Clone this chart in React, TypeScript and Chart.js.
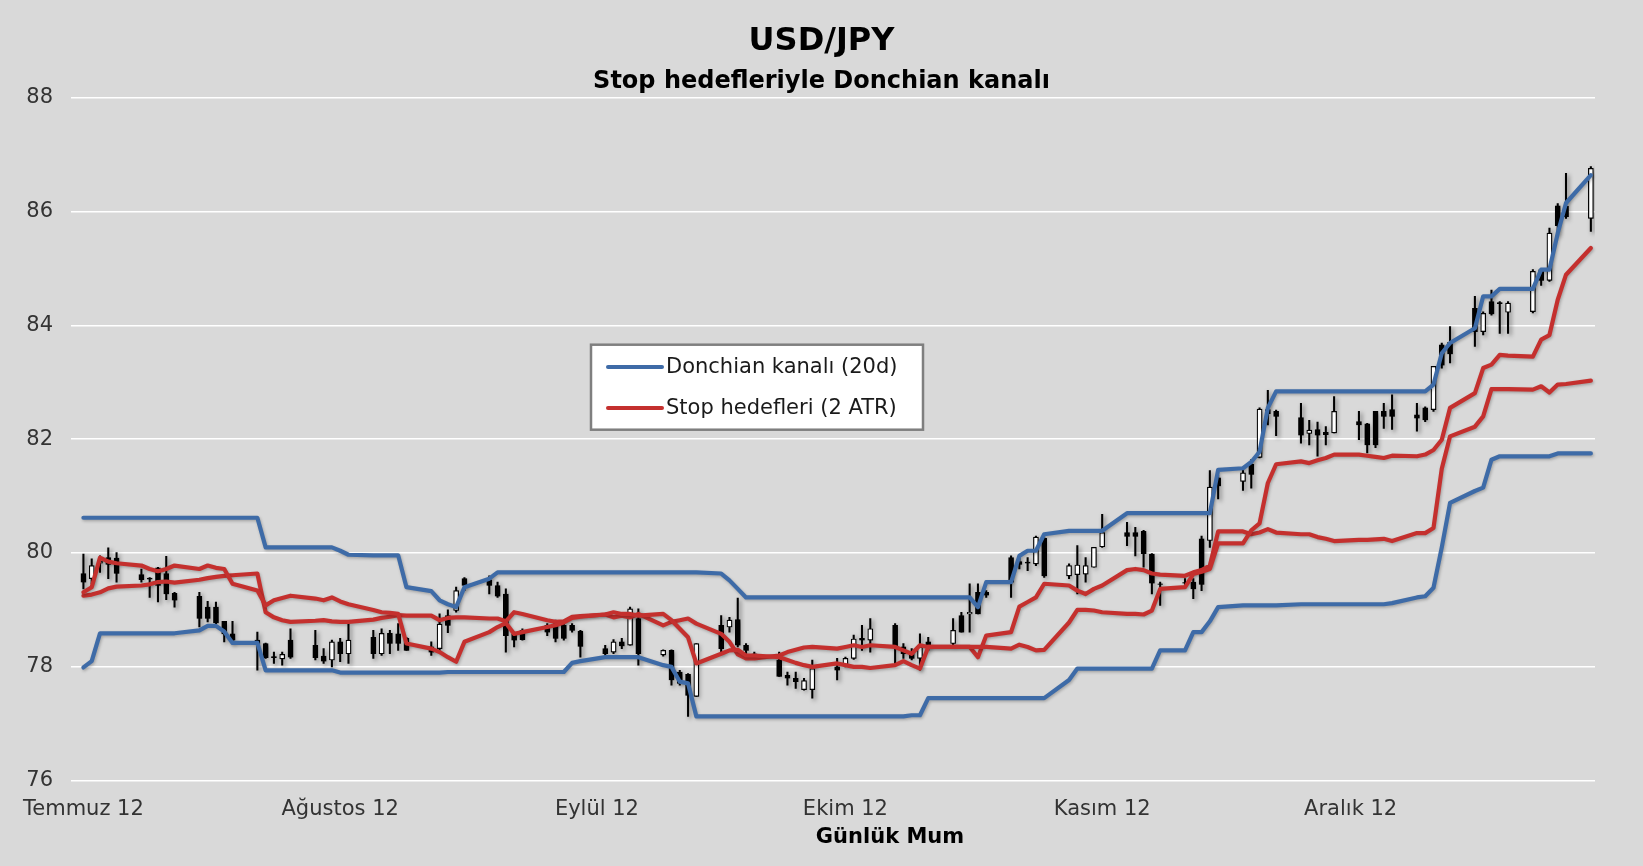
import React, { useEffect, useRef } from 'react';
import { Chart, registerables } from 'chart.js';

Chart.register(...registerables);

const FONT = '"DejaVu Sans", Verdana, sans-serif';

// Trading days (MM-DD, 2012)
const tradingDates = [
  '07-02','07-03','07-04','07-05','07-06',
  '07-09','07-10','07-11','07-12','07-13',
  '07-16','07-17','07-18','07-19','07-20',
  '07-23','07-24','07-25','07-26','07-27',
  '07-30','07-31','08-01','08-02','08-03',
  '08-06','08-07','08-08','08-09','08-10',
  '08-13','08-14','08-15','08-16','08-17',
  '08-20','08-21','08-22','08-23','08-24',
  '08-27','08-28','08-29','08-30','08-31',
  '09-03','09-04','09-05','09-06','09-07',
  '09-10','09-11','09-12','09-13','09-14',
  '09-17','09-18','09-19','09-20','09-21',
  '09-24','09-25','09-26','09-27','09-28',
  '10-01','10-02','10-03','10-04','10-05',
  '10-08','10-09','10-10','10-11','10-12',
  '10-15','10-16','10-17','10-18','10-19',
  '10-22','10-23','10-24','10-25','10-26',
  '10-29','10-30','10-31','11-01','11-02',
  '11-05','11-06','11-07','11-08','11-09',
  '11-12','11-13','11-14','11-15','11-16',
  '11-19','11-20','11-21','11-22','11-23',
  '11-26','11-27','11-28','11-29','11-30',
  '12-03','12-04','12-05','12-06','12-07',
  '12-10','12-11','12-12','12-13','12-14',
  '12-17','12-18','12-19','12-20','12-21',
  '12-24','12-25','12-26','12-27','12-28',
  '12-31',
];

const opens = [
  79.64, 79.55, 79.82, 79.92, 79.91,
  79.62, 79.56, 79.74, 79.64, 79.29,
  79.24, 79.05, 79.05, 78.80, 78.58,
  78.47, 78.41, 78.18, 78.14, 78.47,
  78.38, 78.19, 78.12, 78.44, 78.23,
  78.52, 78.23, 78.59, 78.58, 78.50,
  78.35, 78.32, 78.90, 78.99, 79.55,
  79.53, 79.43, 79.28, 78.58, 78.64,
  78.73, 78.76, 78.73, 78.73, 78.63,
  78.32, 78.26, 78.44, 78.38, 78.85,
  78.21, 78.29, 77.91, 77.87, 77.48,
  78.73, 78.70, 78.83, 78.38, 78.23,
  78.12, 77.85, 77.80, 77.60, 77.60,
  78.00, 78.03, 78.15, 78.50, 78.47,
  78.73, 78.35, 78.26, 78.15, 78.44,
  78.41, 78.90, 78.93, 79.31, 79.31,
  79.92, 79.85, 79.84, 79.81, 80.26,
  79.60, 79.62, 79.63, 79.75, 80.11,
  80.36, 80.36, 80.38, 79.98, 79.46,
  79.48, 79.49, 80.25, 80.22, 81.32,
  81.26, 81.56, 81.68, 82.52, 82.49,
  82.38, 82.10, 82.17, 82.12, 82.11,
  82.31, 82.27, 82.49, 82.49, 82.52,
  82.43, 82.55, 82.52, 83.66, 83.70,
  84.30, 83.89, 84.42, 84.40, 84.23,
  84.24, 84.98, 84.79, 86.10, 86.09,
  85.88,
];

const highs = [
  79.98, 79.90, 79.95, 80.09, 80.01,
  79.72, 79.57, 79.75, 79.94, 79.31,
  79.31, 79.15, 79.14, 78.80, 78.80,
  78.61, 78.42, 78.26, 78.26, 78.67,
  78.64, 78.32, 78.47, 78.50, 78.76,
  78.64, 78.67, 78.64, 78.76, 78.52,
  78.44, 78.93, 79.00, 79.40, 79.57,
  79.60, 79.49, 79.37, 78.61, 78.67,
  78.76, 78.82, 78.76, 78.76, 78.64,
  78.38, 78.48, 78.50, 79.05, 79.02,
  78.30, 78.30, 77.94, 77.88, 78.41,
  78.90, 78.87, 79.21, 78.41, 78.26,
  78.26, 77.91, 77.91, 77.80, 78.12,
  78.15, 78.17, 78.56, 78.73, 78.85,
  78.76, 78.41, 78.32, 78.58, 78.52,
  78.85, 78.96, 79.46, 79.46, 79.34,
  79.95, 79.92, 79.92, 80.30, 80.27,
  79.81, 80.13, 79.92, 80.10, 80.68,
  80.54, 80.45, 80.40, 79.99, 79.49,
  79.55, 79.55, 80.30, 81.45, 81.36,
  81.47, 81.64, 82.55, 82.86, 82.51,
  82.63, 82.33, 82.30, 82.22, 82.75,
  82.49, 82.28, 82.49, 82.63, 82.78,
  82.63, 82.57, 83.28, 83.69, 83.98,
  84.51, 84.24, 84.62, 84.42, 84.42,
  84.98, 84.98, 85.71, 86.14, 86.67,
  86.79,
];

const lows = [
  79.37, 79.46, 79.66, 79.55, 79.49,
  79.49, 79.22, 79.14, 79.18, 79.05,
  78.70, 78.79, 78.76, 78.44, 78.41,
  77.94, 78.15, 78.06, 78.03, 78.15,
  78.12, 78.06, 78.00, 78.09, 78.06,
  78.15, 78.20, 78.23, 78.29, 78.29,
  78.20, 78.29, 78.60, 78.96, 79.34,
  79.28, 79.22, 78.26, 78.35, 78.47,
  78.55, 78.44, 78.47, 78.61, 78.17,
  78.20, 78.23, 78.32, 78.38, 78.03,
  78.19, 77.68, 77.68, 77.13, 77.48,
  78.23, 78.61, 78.35, 78.17, 78.15,
  77.83, 77.68, 77.62, 77.59, 77.45,
  77.77, 78.00, 78.13, 78.29, 78.26,
  78.06, 78.15, 78.12, 77.94, 78.29,
  78.38, 78.61, 78.61, 78.93, 79.22,
  79.22, 79.72, 79.69, 79.78, 79.57,
  79.55, 79.28, 79.49, 79.75, 80.10,
  80.13, 79.95, 79.75, 79.28, 79.08,
  79.44, 79.20, 79.34, 80.10, 80.95,
  81.10, 81.14, 81.67, 82.25, 82.06,
  81.93, 81.90, 81.70, 81.90, 82.11,
  81.99, 81.76, 81.85, 82.19, 82.17,
  82.14, 82.31, 82.49, 83.25, 83.34,
  83.63, 83.83, 84.18, 83.86, 83.86,
  84.22, 84.70, 84.77, 85.59, 85.88,
  85.65,
];

const closes = [
  79.49, 79.78, 79.86, 79.80, 79.64,
  79.53, 79.54, 79.43, 79.28, 79.17,
  78.85, 78.85, 78.77, 78.58, 78.47,
  78.41, 78.16, 78.16, 78.22, 78.17,
  78.16, 78.10, 78.44, 78.23, 78.47,
  78.23, 78.59, 78.41, 78.41, 78.29,
  78.26, 78.75, 78.73, 79.34, 79.43,
  79.43, 79.24, 78.55, 78.47, 78.48,
  78.61, 78.50, 78.50, 78.64, 78.36,
  78.23, 78.44, 78.37, 79.02, 78.23,
  78.29, 77.77, 77.71, 77.50, 78.41,
  78.32, 78.82, 78.38, 78.29, 78.16,
  77.83, 77.80, 77.74, 77.76, 77.97,
  77.94, 78.15, 78.49, 78.47, 78.67,
  78.35, 78.23, 78.15, 78.35, 78.35,
  78.64, 78.61, 78.96, 78.93, 79.26,
  79.49, 79.80, 79.82, 80.28, 79.60,
  79.78, 79.79, 79.78, 80.10, 80.36,
  80.29, 80.29, 79.99, 79.47, 79.45,
  79.47, 79.37, 79.45, 81.16, 81.18,
  81.41, 81.38, 82.53, 82.45, 82.40,
  82.07, 82.16, 82.07, 82.08, 82.49,
  82.25, 81.90, 81.90, 82.40, 82.40,
  82.37, 82.34, 83.28, 83.30, 83.50,
  83.89, 84.21, 84.20, 84.38, 84.39,
  84.95, 84.79, 85.62, 85.75, 85.91,
  86.76,
];

const donchianUpper = [
  80.62, 80.62, 80.62, 80.62, 80.62,
  80.62, 80.62, 80.62, 80.62, 80.62,
  80.62, 80.62, 80.62, 80.62, 80.62,
  80.62, 80.10, 80.10, 80.10, 80.10,
  80.10, 80.10, 80.10, 80.04, 79.97,
  79.96, 79.96, 79.96, 79.96, 79.40,
  79.33, 79.17, 79.10, 79.05, 79.40,
  79.55, 79.66, 79.66, 79.66, 79.66,
  79.66, 79.66, 79.66, 79.66, 79.66,
  79.66, 79.66, 79.66, 79.66, 79.66,
  79.66, 79.66, 79.66, 79.66, 79.66,
  79.64, 79.52, 79.37, 79.22, 79.22,
  79.22, 79.22, 79.22, 79.22, 79.22,
  79.22, 79.22, 79.22, 79.22, 79.22,
  79.22, 79.22, 79.22, 79.22, 79.22,
  79.22, 79.22, 79.22, 79.05, 79.49,
  79.49, 79.95, 80.04, 80.04, 80.33,
  80.39, 80.39, 80.39, 80.39, 80.39,
  80.70, 80.70, 80.70, 80.70, 80.70,
  80.70, 80.70, 80.70, 80.70, 81.46,
  81.49, 81.60, 81.78, 82.55, 82.84,
  82.84, 82.84, 82.84, 82.84, 82.84,
  82.84, 82.84, 82.84, 82.84, 82.84,
  82.84, 82.84, 82.96, 83.51, 83.69,
  83.95, 84.51, 84.51, 84.64, 84.64,
  84.64, 84.98, 84.98, 85.62, 86.15,
  86.64,
];

const donchianLower = [
  77.99, 78.10, 78.59, 78.59, 78.59,
  78.59, 78.59, 78.59, 78.59, 78.59,
  78.64, 78.72, 78.72, 78.62, 78.42,
  78.42, 77.94, 77.94, 77.94, 77.94,
  77.94, 77.94, 77.94, 77.90, 77.90,
  77.90, 77.90, 77.90, 77.90, 77.90,
  77.90, 77.90, 77.91, 77.91, 77.91,
  77.91, 77.91, 77.91, 77.91, 77.91,
  77.91, 77.91, 77.91, 78.07, 78.10,
  78.17, 78.17, 78.17, 78.17, 78.17,
  78.03, 78.00, 77.74, 77.71, 77.13,
  77.13, 77.13, 77.13, 77.13, 77.13,
  77.13, 77.13, 77.13, 77.13, 77.13,
  77.13, 77.13, 77.13, 77.13, 77.13,
  77.13, 77.13, 77.15, 77.15, 77.45,
  77.45, 77.45, 77.45, 77.45, 77.45,
  77.45, 77.45, 77.45, 77.45, 77.45,
  77.77, 77.97, 77.97, 77.97, 77.97,
  77.97, 77.97, 77.97, 77.97, 78.29,
  78.29, 78.61, 78.61, 78.80, 79.05,
  79.08, 79.08, 79.08, 79.08, 79.08,
  79.10, 79.10, 79.10, 79.10, 79.10,
  79.10, 79.10, 79.10, 79.10, 79.12,
  79.22, 79.24, 79.39, 80.10, 80.88,
  81.09, 81.15, 81.64, 81.70, 81.70,
  81.70, 81.70, 81.70, 81.75, 81.75,
  81.75,
];

const stopLine1 = [
  79.31, 79.40, 79.92, 79.85, 79.82,
  79.78, 79.72, 79.68, 79.72, 79.78,
  79.72, 79.78, 79.74, 79.72, 79.46,
  79.34, 79.08, 79.17, 79.21, 79.25,
  79.20, 79.17, 79.22, 79.15, 79.10,
  79.00, 78.96, 78.95, 78.93, 78.41,
  78.32, 78.26, 78.17, 78.09, 78.44,
  78.61, 78.70, 78.77, 78.58, 78.61,
  78.70, 78.73, 78.78, 78.86, 78.88,
  78.92, 78.96, 78.93, 78.93, 78.90,
  78.93, 78.82, 78.67, 78.52, 78.06,
  78.23, 78.29, 78.30, 78.20, 78.20,
  78.17, 78.12, 78.07, 78.03, 78.00,
  78.06, 78.03, 78.00, 78.00, 77.98,
  78.03, 78.10, 78.03, 77.97, 78.35,
  78.35, 78.35, 78.35, 78.35, 78.35,
  78.32, 78.39, 78.35, 78.29, 78.30,
  78.78, 79.00, 79.00, 78.99, 78.96,
  78.93, 78.93, 78.92, 78.99, 79.37,
  79.40, 79.63, 79.67, 79.72, 80.17,
  80.17, 80.40, 80.52, 81.23, 81.56,
  81.61, 81.58, 81.63, 81.67, 81.73,
  81.73, 81.71, 81.69, 81.67, 81.71,
  81.70, 81.73, 81.81, 81.99, 82.55,
  82.81, 83.25, 83.31, 83.48, 83.47,
  83.45, 83.75, 83.83, 84.45, 84.89,
  85.36,
];

const stopLine2 = [
  79.25, 79.27, 79.31, 79.38, 79.41,
  79.43, 79.45, 79.49, 79.50, 79.48,
  79.53, 79.56, 79.58, 79.60, 79.61,
  79.64, 78.96, 78.87, 78.82, 78.79,
  78.81, 78.82, 78.80, 78.79, 78.79,
  78.83, 78.86, 78.88, 78.91, 78.90,
  78.90, 78.82, 78.86, 78.87, 78.87,
  78.85, 78.85, 78.80, 78.96, 78.93,
  78.82, 78.79, 78.80, 78.88, 78.89,
  78.92, 78.87, 78.90, 78.87, 78.93,
  78.73, 78.79, 78.82, 78.85, 78.76,
  78.58, 78.44, 78.22, 78.15, 78.15,
  78.20, 78.26, 78.30, 78.34, 78.35,
  78.32, 78.35, 78.38, 78.35, 78.38,
  78.35, 78.29, 78.23, 78.38, 78.35,
  78.35, 78.35, 78.35, 78.17, 78.55,
  78.61, 79.06, 79.14, 79.22, 79.46,
  79.43, 79.34, 79.28, 79.37, 79.43,
  79.70, 79.72, 79.70, 79.64, 79.62,
  79.60, 79.66, 79.70, 79.78, 80.38,
  80.38, 80.33, 80.36, 80.42, 80.36,
  80.33, 80.33, 80.28, 80.25, 80.21,
  80.23, 80.23, 80.24, 80.25, 80.21,
  80.35, 80.35, 80.44, 81.48, 82.05,
  82.22, 82.40, 82.88, 82.88, 82.88,
  82.87, 82.93, 82.82, 82.96, 82.97,
  83.03,
];

const monthTickDates = ['07-02', '08-02', '09-02', '10-02', '11-02', '12-02'];
const monthTickLabels = ['Temmuz 12', 'Ağustos 12', 'Eylül 12', 'Ekim 12', 'Kasım 12', 'Aralık 12'];

const TITLE = 'USD/JPY';
const SUBTITLE = 'Stop hedefleriyle Donchian kanalı';
const X_TITLE = 'Günlük Mum';
const LABEL_DONCHIAN = 'Donchian kanalı (20d)';
const LABEL_STOP = 'Stop hedefleri (2 ATR)';

const BLUE = '#3e6ba7';
const RED = '#c4302e';

function buildCalendar(): string[] {
  const out: string[] = [];
  const d = new Date(Date.UTC(2012, 6, 1));
  const end = Date.UTC(2012, 11, 31);
  while (d.getTime() <= end) {
    const mm = String(d.getUTCMonth() + 1).padStart(2, '0');
    const dd = String(d.getUTCDate()).padStart(2, '0');
    out.push(`${mm}-${dd}`);
    d.setUTCDate(d.getUTCDate() + 1);
  }
  return out;
}

export default function App() {
  const ref = useRef<HTMLCanvasElement | null>(null);

  useEffect(() => {
    document.body.style.margin = '0';
    document.body.style.background = '#d9d9d9';
    const canvas = ref.current;
    if (!canvas) return;

    const calendar = buildCalendar();
    const pos = new Map<string, number>();
    tradingDates.forEach((d, i) => pos.set(d, i));
    const align = (arr: number[]) => calendar.map((c) => (pos.has(c) ? arr[pos.get(c)!] : null));
    const wicks = calendar.map((c) => {
      const i = pos.get(c);
      return i === undefined ? null : [lows[i], highs[i]];
    });
    const bodies = calendar.map((c) => {
      const i = pos.get(c);
      return i === undefined ? null : [opens[i], closes[i]];
    });
    const bodyColors = calendar.map((c) => {
      const i = pos.get(c);
      if (i === undefined) return '#000000';
      return closes[i] >= opens[i] ? '#ffffff' : '#000000';
    });
    const tickMap = new Map<number, string>();
    monthTickDates.forEach((d, k) => tickMap.set(calendar.indexOf(d), monthTickLabels[k]));

    const bgPlugin = {
      id: 'bg',
      beforeDraw(chart: any) {
        const ctx = chart.ctx;
        ctx.save();
        ctx.fillStyle = '#d9d9d9';
        ctx.fillRect(0, 0, chart.width, chart.height);
        ctx.restore();
      },
    };

    const shadowPlugin = {
      id: 'softShadow',
      beforeDatasetDraw(chart: any, args: any) {
        const ds = chart.data.datasets[args.index];
        const ctx = chart.ctx;
        ctx.save();
        if (ds.type === 'line') {
          ctx.shadowColor = 'rgba(0,0,0,0.25)';
          ctx.shadowBlur = 3;
          ctx.shadowOffsetX = 1;
          ctx.shadowOffsetY = 1.5;
        } else {
          ctx.shadowColor = 'rgba(0,0,0,0.5)';
          ctx.shadowBlur = 4;
          ctx.shadowOffsetX = 2;
          ctx.shadowOffsetY = 2;
        }
      },
      afterDatasetDraw(chart: any) {
        chart.ctx.restore();
      },
    };

    const overlayPlugin = {
      id: 'overlay',
      afterDraw(chart: any) {
        const ctx = chart.ctx;
        const ca = chart.chartArea;
        ctx.save();
        // x-axis title
        ctx.fillStyle = '#000000';
        ctx.font = `bold 21px ${FONT}`;
        ctx.textAlign = 'center';
        ctx.textBaseline = 'middle';
        ctx.fillText(X_TITLE, (ca.left + ca.right) / 2 + 57, 838);

        // legend
        const seen: { label: string; color: string }[] = [];
        chart.data.datasets.forEach((ds: any) => {
          if (ds.type === 'line' && !seen.find((s) => s.label === ds.label)) {
            seen.push({ label: ds.label, color: ds.borderColor });
          }
        });
        const bx = ca.left + 520;
        const by = ca.top + 247;
        const bw = 332;
        const bh = 85;
        ctx.fillStyle = '#ffffff';
        ctx.fillRect(bx, by, bw, bh);
        ctx.strokeStyle = '#7f7f7f';
        ctx.lineWidth = 2.5;
        ctx.strokeRect(bx, by, bw, bh);
        seen.forEach((s, k) => {
          const y = by + 22.2 + k * 41;
          ctx.strokeStyle = s.color;
          ctx.lineWidth = 4;
          ctx.lineCap = 'round';
          ctx.beginPath();
          ctx.moveTo(bx + 17, y);
          ctx.lineTo(bx + 71, y);
          ctx.stroke();
          ctx.fillStyle = '#1a1a1a';
          ctx.font = `21px ${FONT}`;
          ctx.textAlign = 'left';
          ctx.textBaseline = 'middle';
          ctx.fillText(s.label, bx + 75, y + 1);
        });
        ctx.restore();
      },
    };

    const lineCommon = {
      type: 'line' as const,
      borderWidth: 4.2,
      pointRadius: 0,
      pointHoverRadius: 0,
      spanGaps: true,
      tension: 0,
      borderJoinStyle: 'round' as const,
      borderCapStyle: 'round' as const,
      fill: false,
    };

    const chart = new Chart(canvas, {
      type: 'bar',
      data: {
        labels: calendar,
        datasets: [
          { ...lineCommon, label: LABEL_DONCHIAN, data: align(donchianUpper), borderColor: BLUE, order: 1 },
          { ...lineCommon, label: LABEL_DONCHIAN, data: align(donchianLower), borderColor: BLUE, order: 1 },
          { ...lineCommon, label: LABEL_STOP, data: align(stopLine1), borderColor: RED, order: 0 },
          { ...lineCommon, label: LABEL_STOP, data: align(stopLine2), borderColor: RED, order: 0 },
          {
            type: 'bar',
            label: 'Gövde',
            data: bodies as any,
            backgroundColor: bodyColors,
            borderColor: '#000000',
            borderWidth: 1.2,
            borderSkipped: false,
            barThickness: 5,
            grouped: false,
            order: 2,
          },
          {
            type: 'bar',
            label: 'Fitil',
            data: wicks as any,
            backgroundColor: '#000000',
            borderWidth: 0,
            barThickness: 1.4,
            grouped: false,
            order: 3,
          },
        ] as any,
      },
      options: {
        responsive: false,
        animation: false,
        devicePixelRatio: 1,
        events: [],
        layout: { padding: { left: 0, right: 0, top: 0, bottom: 0 } },
        plugins: {
          legend: { display: false },
          tooltip: { enabled: false },
          title: {
            display: true,
            text: TITLE,
            color: '#000000',
            font: { family: FONT, size: 32, weight: 'bold' },
            padding: { top: 22.3, bottom: 0 },
          },
          subtitle: {
            display: true,
            text: SUBTITLE,
            color: '#000000',
            font: { family: FONT, size: 24, weight: 'bold' },
            padding: { top: 6.6, bottom: 1.6 },
          },
        },
        scales: {
          x: {
            type: 'category',
            offset: true,
            grid: { display: false, drawTicks: false },
            border: { display: false },
            ticks: {
              autoSkip: false,
              maxRotation: 0,
              minRotation: 0,
              padding: 16,
              color: '#333333',
              font: { family: FONT, size: 21 },
              callback: (_v: any, i: number) => tickMap.get(i) ?? '',
            },
            afterFit: (s: any) => {
              s.height = 85.3;
            },
          },
          y: {
            min: 76,
            max: 88,
            ticks: {
              stepSize: 2,
              padding: 18,
              color: '#333333',
              font: { family: FONT, size: 21 },
            },
            grid: { color: '#ffffff', lineWidth: 1.6, drawTicks: false },
            border: { display: false },
            afterFit: (s: any) => {
              s.width = 71;
            },
          },
          yRight: {
            type: 'linear',
            position: 'right',
            display: true,
            min: 76,
            max: 88,
            grid: { display: false, drawTicks: false },
            border: { display: false },
            ticks: { display: false },
            afterFit: (s: any) => {
              s.width = 48;
            },
          },
        },
      } as any,
      plugins: [bgPlugin, shadowPlugin, overlayPlugin],
    });

    return () => {
      chart.destroy();
    };
  }, []);

  return (
    <div style={{ width: 1643, height: 866, background: '#d9d9d9' }}>
      <canvas ref={ref} width={1643} height={866} style={{ display: 'block', width: 1643, height: 866 }} />
    </div>
  );
}
